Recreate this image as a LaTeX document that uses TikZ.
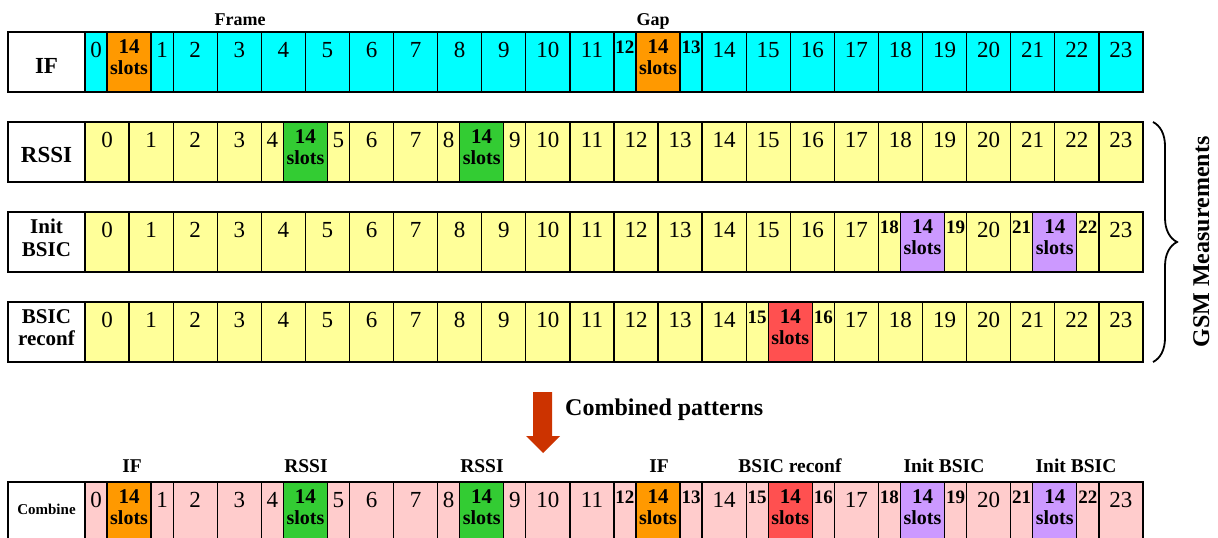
\documentclass[tikz,border=0pt]{standalone}
\usepackage{fontspec}
\setmainfont{Liberation Serif}
\usetikzlibrary{decorations.pathreplacing}
\definecolor{cif}{HTML}{00FFFF}
\definecolor{cyl}{HTML}{FFFF99}
\definecolor{cpk}{HTML}{FFCCCC}
\definecolor{cor}{HTML}{FF9900}
\definecolor{cgr}{HTML}{33CC33}
\definecolor{cpu}{HTML}{CC99FF}
\definecolor{crd}{HTML}{FF5050}
\definecolor{carr}{HTML}{CC3300}
\def\slotkey{s}
\tikzset{
  cellbox/.style={draw=black, line width=1.3pt, rectangle, inner sep=0pt, outer sep=0pt, minimum height=60pt, anchor=north west},
  nr/.style={anchor=base, inner sep=0pt, yshift=-25pt, font=\fontsize{23}{23}\selectfont},
  nb/.style={anchor=base, inner sep=0pt, yshift=-21pt, font=\fontsize{19}{19}\selectfont\bfseries},
  slnum/.style={anchor=base, inner sep=0pt, yshift=-21pt, font=\fontsize{21}{21}\selectfont\bfseries},
  sltxt/.style={anchor=base, inner sep=0pt, yshift=-42pt, font=\fontsize{20}{20}\selectfont\bfseries},
  rowlab/.style={anchor=base, inner sep=0pt, font=\fontsize{23}{23}\selectfont\bfseries},
  rowlabtwo/.style={anchor=base, inner sep=0pt, font=\fontsize{21}{21}\selectfont\bfseries},
  headlab/.style={anchor=base, inner sep=0pt, font=\fontsize{19.5}{19.5}\selectfont\bfseries},
  toplab/.style={anchor=base, inner sep=0pt, font=\fontsize{18}{18}\selectfont\bfseries},
}
\newcommand\gsmrow[3]{%
  \foreach \s/\w/\f/\ty/\tx [count=\k] in {#3}{%
    \pgfmathsetmacro\xx{85+\s*44.08}%
    \pgfmathsetmacro\ww{\w*44.08}%
    \node[cellbox, fill=\f, minimum width=\ww pt] (#1-\k) at (\xx,#2) {};
    \ifx\ty\slotkey
      \node[slnum] at (#1-\k.north) {14};
      \node[sltxt] at (#1-\k.north) {slots};
    \else
      \edef\gsmtmp{\noexpand\node[\ty]}%
      \gsmtmp at (#1-\k.north) {\tx};
    \fi
  }%
}
\begin{document}
\begin{tikzpicture}[x=1pt,y=-1pt]
\useasboundingbox (0,0) rectangle (1218,538);
\clip (0,0) rectangle (1218,538);

% ---------- IF row ----------
\node[toplab] (frame) at (240,25) {Frame};
\node[toplab] (gap) at (653,25) {Gap};
\node[cellbox, fill=white, minimum width=77pt] (ifr-lab) at (8,32) {};
\node[rowlab] at ([yshift=-41pt]ifr-lab.north) {IF};
\gsmrow{ifr}{32}{0/0.5/cif/nr/0,0.5/1/cor/s/x,1.5/0.5/cif/nr/1,2/1/cif/nr/2,3/1/cif/nr/3,4/1/cif/nr/4,5/1/cif/nr/5,6/1/cif/nr/6,7/1/cif/nr/7,8/1/cif/nr/8,9/1/cif/nr/9,10/1/cif/nr/10,11/1/cif/nr/11,12/0.5/cif/nb/12,12.5/1/cor/s/x,13.5/0.5/cif/nb/13,14/1/cif/nr/14,15/1/cif/nr/15,16/1/cif/nr/16,17/1/cif/nr/17,18/1/cif/nr/18,19/1/cif/nr/19,20/1/cif/nr/20,21/1/cif/nr/21,22/1/cif/nr/22,23/1/cif/nr/23}

% ---------- RSSI row ----------
\node[cellbox, fill=white, minimum width=77pt] (rs-lab) at (8,122) {};
\node[rowlab] at ([yshift=-40pt]rs-lab.north) {RSSI};
\gsmrow{rs}{122}{0/1/cyl/nr/0,1/1/cyl/nr/1,2/1/cyl/nr/2,3/1/cyl/nr/3,4/0.5/cyl/nr/4,4.5/1/cgr/s/x,5.5/0.5/cyl/nr/5,6/1/cyl/nr/6,7/1/cyl/nr/7,8/0.5/cyl/nr/8,8.5/1/cgr/s/x,9.5/0.5/cyl/nr/9,10/1/cyl/nr/10,11/1/cyl/nr/11,12/1/cyl/nr/12,13/1/cyl/nr/13,14/1/cyl/nr/14,15/1/cyl/nr/15,16/1/cyl/nr/16,17/1/cyl/nr/17,18/1/cyl/nr/18,19/1/cyl/nr/19,20/1/cyl/nr/20,21/1/cyl/nr/21,22/1/cyl/nr/22,23/1/cyl/nr/23}

% ---------- Init BSIC row ----------
\node[cellbox, fill=white, minimum width=77pt] (ib-lab) at (8,212) {};
\node[rowlabtwo] at ([yshift=-21pt]ib-lab.north) {Init};
\node[rowlabtwo] at ([yshift=-44pt]ib-lab.north) {BSIC};
\gsmrow{ib}{212}{0/1/cyl/nr/0,1/1/cyl/nr/1,2/1/cyl/nr/2,3/1/cyl/nr/3,4/1/cyl/nr/4,5/1/cyl/nr/5,6/1/cyl/nr/6,7/1/cyl/nr/7,8/1/cyl/nr/8,9/1/cyl/nr/9,10/1/cyl/nr/10,11/1/cyl/nr/11,12/1/cyl/nr/12,13/1/cyl/nr/13,14/1/cyl/nr/14,15/1/cyl/nr/15,16/1/cyl/nr/16,17/1/cyl/nr/17,18/0.5/cyl/nb/18,18.5/1/cpu/s/x,19.5/0.5/cyl/nb/19,20/1/cyl/nr/20,21/0.5/cyl/nb/21,21.5/1/cpu/s/x,22.5/0.5/cyl/nb/22,23/1/cyl/nr/23}

% ---------- BSIC reconf row ----------
\node[cellbox, fill=white, minimum width=77pt] (br-lab) at (8,302) {};
\node[rowlabtwo] at ([yshift=-21pt]br-lab.north) {BSIC};
\node[rowlabtwo] at ([yshift=-43pt]br-lab.north) {reconf};
\gsmrow{br}{302}{0/1/cyl/nr/0,1/1/cyl/nr/1,2/1/cyl/nr/2,3/1/cyl/nr/3,4/1/cyl/nr/4,5/1/cyl/nr/5,6/1/cyl/nr/6,7/1/cyl/nr/7,8/1/cyl/nr/8,9/1/cyl/nr/9,10/1/cyl/nr/10,11/1/cyl/nr/11,12/1/cyl/nr/12,13/1/cyl/nr/13,14/1/cyl/nr/14,15/0.5/cyl/nb/15,15.5/1/crd/s/x,16.5/0.5/cyl/nb/16,17/1/cyl/nr/17,18/1/cyl/nr/18,19/1/cyl/nr/19,20/1/cyl/nr/20,21/1/cyl/nr/21,22/1/cyl/nr/22,23/1/cyl/nr/23}

% ---------- brace ----------
\coordinate (brtop) at (1153,122);
\coordinate (brbot) at (1153,362);
\draw[decorate, decoration={brace, amplitude=24pt}, line width=1.8pt] (brtop) -- (brbot);
\node[rotate=90, anchor=base, inner sep=0pt, font=\fontsize{24}{24}\selectfont\bfseries] (gsm) at (1209,242) {GSM Measurements};

% ---------- arrow ----------
\fill[carr] (533,392) -- (552,392) -- (552,436) -- (560,436) -- (543,453) -- (526,436) -- (533,436) -- cycle;
\node[anchor=base west, inner sep=0pt, font=\fontsize{24}{24}\selectfont\bfseries] (comblab) at (565,415) {Combined patterns};

% ---------- Combine row ----------
\node[headlab] (h1) at (132,472) {IF};
\node[headlab] (h2) at (306,472) {RSSI};
\node[headlab] (h3) at (482,472) {RSSI};
\node[headlab] (h4) at (659,472) {IF};
\node[headlab] (h5) at (790,472) {BSIC reconf};
\node[headlab] (h6) at (944,472) {Init BSIC};
\node[headlab] (h7) at (1076,472) {Init BSIC};
\node[cellbox, fill=white, minimum width=77pt] (cb-lab) at (8,482) {};
\node[anchor=base, inner sep=0pt, font=\fontsize{15}{15}\selectfont\bfseries] at ([yshift=-32pt]cb-lab.north) {Combine};
\gsmrow{cb}{482}{0/0.5/cpk/nr/0,0.5/1/cor/s/x,1.5/0.5/cpk/nr/1,2/1/cpk/nr/2,3/1/cpk/nr/3,4/0.5/cpk/nr/4,4.5/1/cgr/s/x,5.5/0.5/cpk/nr/5,6/1/cpk/nr/6,7/1/cpk/nr/7,8/0.5/cpk/nr/8,8.5/1/cgr/s/x,9.5/0.5/cpk/nr/9,10/1/cpk/nr/10,11/1/cpk/nr/11,12/0.5/cpk/nb/12,12.5/1/cor/s/x,13.5/0.5/cpk/nb/13,14/1/cpk/nr/14,15/0.5/cpk/nb/15,15.5/1/crd/s/x,16.5/0.5/cpk/nb/16,17/1/cpk/nr/17,18/0.5/cpk/nb/18,18.5/1/cpu/s/x,19.5/0.5/cpk/nb/19,20/1/cpk/nr/20,21/0.5/cpk/nb/21,21.5/1/cpu/s/x,22.5/0.5/cpk/nb/22,23/1/cpk/nr/23}
\end{tikzpicture}
\end{document}
